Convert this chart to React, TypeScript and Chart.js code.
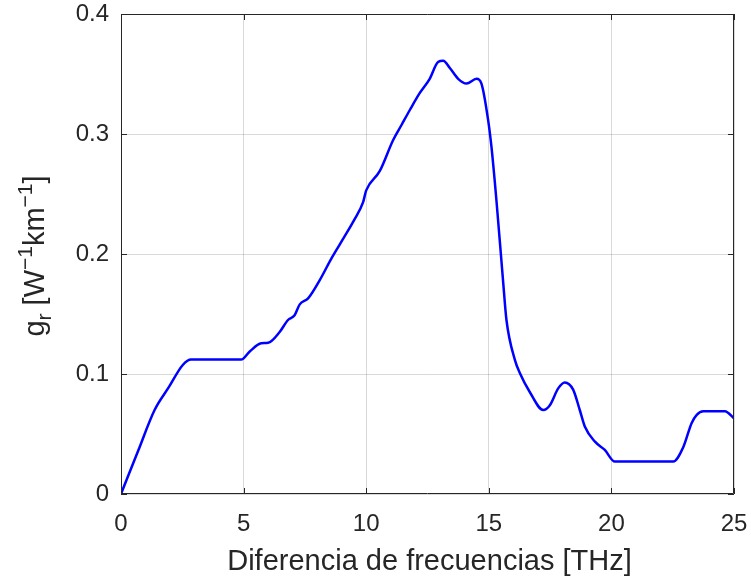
import React, { useEffect, useRef } from "react";
import { Chart, registerables } from "chart.js";

Chart.register(...registerables);

const xValues = [0, 0.7, 1.37, 1.95, 2.52, 2.86, 4.9, 5.24, 5.72, 6.0, 6.47, 6.81, 7.08, 7.29, 7.63, 8.1, 8.6, 9.1, 9.5, 9.87, 10.0, 10.55, 11.1, 11.44, 11.78, 12.18, 12.59, 12.93, 13.14, 13.41, 13.75, 14.09, 14.5, 14.7, 14.97, 15.11, 15.31, 15.58, 15.72, 16.06, 16.27, 16.67, 17.22, 17.49, 17.83, 18.1, 18.44, 18.71, 18.92, 19.33, 19.73, 20.14, 22.52, 22.93, 23.27, 23.48, 23.75, 24.63, 25.0];
const yValues = [0, 0.036, 0.07, 0.089, 0.1075, 0.112, 0.112, 0.1186, 0.1256, 0.126, 0.135, 0.145, 0.149, 0.158, 0.163, 0.178, 0.197, 0.214, 0.228, 0.243, 0.253, 0.269, 0.295, 0.3075, 0.32, 0.334, 0.346, 0.36, 0.361, 0.355, 0.346, 0.342, 0.346, 0.342, 0.312, 0.289, 0.245, 0.178, 0.145, 0.112, 0.1006, 0.085, 0.07, 0.074, 0.088, 0.093, 0.087, 0.07, 0.056, 0.0436, 0.0367, 0.027, 0.027, 0.039, 0.059, 0.066, 0.069, 0.069, 0.063];
const xTicks = [0, 5, 10, 15, 20, 25];
const yTicks = [0, 0.1, 0.2, 0.3, 0.4];
const xTitle = "Diferencia de frecuencias [THz]";

const FONT = "'Liberation Sans', Arial, sans-serif";
const AXIS = "#262626";

const framePlugin = {
  id: "frame",
  afterDraw(chart: any) {
    const { ctx, chartArea: a, scales } = chart;
    ctx.save();
    ctx.strokeStyle = AXIS;
    ctx.lineWidth = 1;
    ctx.beginPath();
    ctx.rect(a.left + 0.5, a.top + 0.5, a.right - a.left - 1, a.bottom - a.top - 1);
    ctx.stroke();
    const L = 6;
    ctx.beginPath();
    xTicks.forEach((v) => {
      const px = Math.round(scales.x.getPixelForValue(v)) + 0.5;
      ctx.moveTo(px, a.bottom);
      ctx.lineTo(px, a.bottom - L);
      ctx.moveTo(px, a.top);
      ctx.lineTo(px, a.top + L);
    });
    yTicks.forEach((v) => {
      const py = Math.round(scales.y.getPixelForValue(v)) + 0.5;
      ctx.moveTo(a.left, py);
      ctx.lineTo(a.left + L, py);
      ctx.moveTo(a.right, py);
      ctx.lineTo(a.right - L, py);
    });
    ctx.stroke();

    // x title
    ctx.fillStyle = AXIS;
    ctx.font = `29px ${FONT}`;
    ctx.textAlign = "center";
    ctx.textBaseline = "middle";
    ctx.fillText(xTitle, (a.left + a.right) / 2 + 2, 562);

    // y title with sub/superscripts
    const parts: [string, number, number][] = [
      ["g", 29, 0],
      ["r", 21, 1],
      [" [W", 29, 0],
      ["\u22121", 21, -1],
      ["km", 29, 0],
      ["\u22121", 21, -1],
      ["]", 29, 0],
    ];
    let total = 0;
    parts.forEach(([t, s]) => {
      ctx.font = `${s}px ${FONT}`;
      total += ctx.measureText(t).width;
    });
    ctx.translate(34, 256);
    ctx.rotate(-Math.PI / 2);
    ctx.textAlign = "left";
    ctx.textBaseline = "alphabetic";
    let x = -total / 2;
    parts.forEach(([t, s, k]) => {
      ctx.font = `${s}px ${FONT}`;
      const dy = k === 1 ? 7 : k === -1 ? -12 : 0;
      ctx.fillText(t, x, 10 + dy);
      x += ctx.measureText(t).width;
    });
    ctx.restore();
  },
};

export default function App() {
  const ref = useRef<HTMLCanvasElement>(null);
  useEffect(() => {
    if (!ref.current) return;
    const data = xValues.map((x, i) => ({ x, y: yValues[i] }));
    const chart = new Chart(ref.current, {
      type: "line",
      data: {
        datasets: [
          {
            data,
            borderColor: "#0000FF",
            borderWidth: 2.5,
            pointRadius: 0,
            cubicInterpolationMode: "monotone",
            fill: false,
          },
        ],
      },
      options: {
        animation: false,
        responsive: false,
        maintainAspectRatio: false,
        layout: { padding: { top: 14, right: 17, left: 0, bottom: 0 } },
        plugins: { legend: { display: false }, tooltip: { enabled: false } },
        scales: {
          x: {
            type: "linear",
            min: 0,
            max: 25,
            afterBuildTicks: (s: any) => {
              s.ticks = xTicks.map((v) => ({ value: v }));
            },
            afterFit: (s: any) => {
              s.height = 90;
              s.paddingLeft = 0;
              s.paddingRight = 0;
            },
            ticks: {
              color: AXIS,
              font: { family: FONT, size: 24 },
              padding: 16,
              maxRotation: 0,
              callback: (v: any) => String(v),
            },
            grid: { color: "rgba(0,0,0,0.15)", drawTicks: false },
            border: { display: false },
          },
          y: {
            type: "linear",
            min: 0,
            max: 0.4,
            afterBuildTicks: (s: any) => {
              s.ticks = yTicks.map((v) => ({ value: v }));
            },
            afterFit: (s: any) => {
              s.width = 121;
              s.paddingTop = 0;
              s.paddingBottom = 0;
            },
            ticks: {
              color: AXIS,
              font: { family: FONT, size: 24 },
              padding: 12,
              callback: (v: any) => (v === 0 ? "0" : Number(v).toFixed(1)),
            },
            grid: { color: "rgba(0,0,0,0.15)", drawTicks: false },
            border: { display: false },
          },
        },
      },
      plugins: [framePlugin],
    });
    return () => chart.destroy();
  }, []);
  return (
    <div style={{ position: "fixed", left: 0, top: 0, width: 751, height: 584, background: "#fff" }}>
      <canvas ref={ref} width={751} height={584} />
    </div>
  );
}
